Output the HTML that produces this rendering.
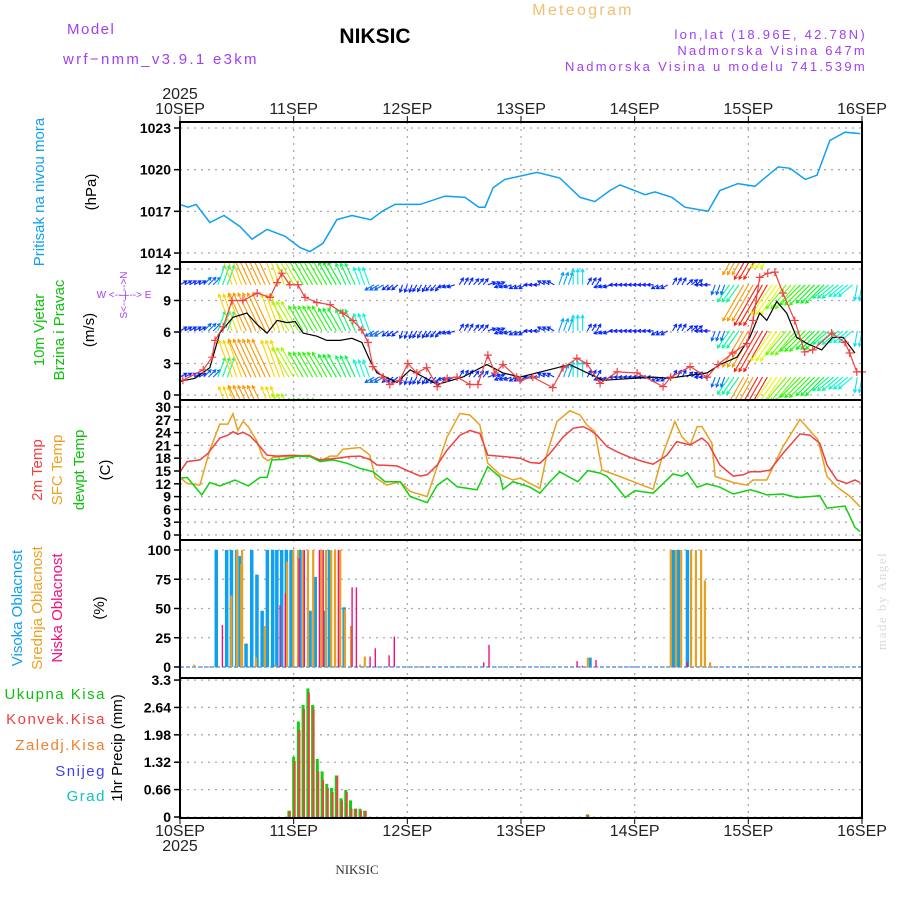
<!DOCTYPE html>
<html><head><meta charset="utf-8"><style>
html,body{margin:0;padding:0;background:#fff;}
svg{display:block;font-family:"Liberation Sans",sans-serif;}
.h{letter-spacing:1.5px;}
.h2{letter-spacing:2.3px;}
</style></head><body>
<svg id="chart" width="900" height="900" viewBox="0 0 900 900" xmlns="http://www.w3.org/2000/svg">
<defs>
<clipPath id="cW"><rect x="181" y="263" width="680" height="136"/></clipPath>
</defs>
<g>
<text x="67" y="34" fill="#a040f0" font-size="15" class="h">Model</text>
<text x="63" y="64" fill="#a040f0" font-size="15" class="h2">wrf−nmm_v3.9.1 e3km</text>
<text x="375" y="43" fill="#000" font-size="21" font-weight="bold" text-anchor="middle">NIKSIC</text>
<text x="583" y="15" fill="#f0c070" font-size="16" class="h2" text-anchor="middle">Meteogram</text>
<text x="867" y="39" fill="#a040f0" font-size="13" class="h2" text-anchor="end">lon,lat (18.96E, 42.78N)</text>
<text x="867" y="55" fill="#a040f0" font-size="13" class="h2" text-anchor="end">Nadmorska Visina 647m</text>
<text x="867" y="71" fill="#a040f0" font-size="13" class="h2" text-anchor="end">Nadmorska Visina u modelu 741.539m</text>
<text x="180" y="99" fill="#222" font-size="16" text-anchor="middle">2025</text>
<text x="180" y="851" fill="#222" font-size="16" text-anchor="middle">2025</text>
<text x="357" y="874" fill="#333" font-size="13" font-family="Liberation Serif,serif" text-anchor="middle">NIKSIC</text>
<text transform="translate(886,650) rotate(-90)" fill="#d8dcd8" font-size="13" font-family="Liberation Serif,serif" class="h">made by Angel</text>
</g>
<g font-size="15">
<text transform="translate(44,192) rotate(-90)" fill="#10a0f0" text-anchor="middle">Pritisak na nivou mora</text>
<text transform="translate(96,192) rotate(-90)" fill="#000" text-anchor="middle">(hPa)</text>
<text transform="translate(44,330) rotate(-90)" fill="#10c010" text-anchor="middle">10m Vjetar</text>
<text transform="translate(64,330) rotate(-90)" fill="#10c010" text-anchor="middle">Brzina i Pravac</text>
<text transform="translate(94,330) rotate(-90)" fill="#000" text-anchor="middle">(m/s)</text>
<text x="124" y="298" fill="#a040f0" font-size="10" text-anchor="middle">W  &lt;-- | --&gt;  E</text>
<text transform="translate(127,295) rotate(-90)" fill="#a040f0" font-size="10" text-anchor="middle">S&lt;-- | --&gt;N</text>
<text transform="translate(42,470) rotate(-90)" fill="#f04040" text-anchor="middle">2m Temp</text>
<text transform="translate(62,470) rotate(-90)" fill="#f0a020" text-anchor="middle">SFC Temp</text>
<text transform="translate(84,470) rotate(-90)" fill="#10c010" text-anchor="middle">dewpt Temp</text>
<text transform="translate(110,470) rotate(-90)" fill="#000" text-anchor="middle">(C)</text>
<text transform="translate(22,608) rotate(-90)" fill="#10a0f0" text-anchor="middle">Visoka Oblacnost</text>
<text transform="translate(42,608) rotate(-90)" fill="#f0a020" text-anchor="middle">Srednja Oblacnost</text>
<text transform="translate(62,608) rotate(-90)" fill="#f01080" text-anchor="middle">Niska Oblacnost</text>
<text transform="translate(104,608) rotate(-90)" fill="#000" text-anchor="middle">(%)</text>
<text transform="translate(122,748) rotate(-90)" fill="#000" text-anchor="middle">1hr Precip (mm)</text>
<text x="106" y="699" fill="#10c010" text-anchor="end" class="h">Ukupna Kisa</text>
<text x="106" y="724" fill="#f04040" text-anchor="end" class="h">Konvek.Kisa</text>
<text x="106" y="750" fill="#f08030" text-anchor="end" class="h">Zaledj.Kisa</text>
<text x="106" y="776" fill="#4040f0" text-anchor="end" class="h">Snijeg</text>
<text x="106" y="801" fill="#10c0c0" text-anchor="end" class="h">Grad</text>
</g>
<g id="grid"></g>
<g id="marks"></g>
<g id="axes"></g>
</svg>
<script>
// ---------- data ----------
const dayLabels = ["10SEP","11SEP","12SEP","13SEP","14SEP","15SEP","16SEP"];
const pTicks = [1023,1020,1017,1014];
const wTicks = [12,9,6,3,0];
const tTicks = [30,27,24,21,18,15,12,9,6,3,0];
const cTicks = [100,75,50,25,0];
const rTicks = [3.3,2.64,1.98,1.32,0.66,0];
const rTickLabels = ["3.3","2.64","1.98","1.32","0.66","0"];

const pHours = [0,1.7,3.4,6.3,9.3,12.7,15.2,18.4,22.2,25.3,27.4,30.2,33.1,36.3,40.3,42.7,45.4,50.7,56,60.2,63.1,64.4,66.1,68.6,75.4,80.2,84.5,87.6,90.8,92.9,98.2,100.3,103.9,106.6,111.5,114,117.8,121.4,123.1,126.3,128.8,132,134.5,137.2,140.4,143.6];
const pVals = [1017.5,1017.3,1017.5,1016.2,1016.7,1015.9,1015.0,1015.7,1015.2,1014.4,1014.1,1014.7,1016.4,1016.7,1016.4,1017.0,1017.5,1017.5,1018.1,1018.0,1017.3,1017.3,1018.7,1019.3,1019.8,1019.4,1018.0,1017.7,1018.5,1018.9,1018.2,1018.4,1018.0,1017.3,1017.0,1018.5,1019.0,1018.8,1019.3,1020.2,1020.1,1019.3,1019.6,1022.1,1022.7,1022.6];

const gustHours = [0.6,4.9,6.8,7.4,9.1,11,13.3,16.3,19,20.5,21.5,23.2,24.9,26.4,28.9,31.7,34.4,36.5,38.4,39.7,40.7,42.9,44.3,46.4,48.1,50,52.1,54.3,56.4,58.5,61.2,62.9,65,66.5,68.2,71.1,71.8,74.5,78.7,80.9,83.8,85.9,88.7,92.3,96.5,102,103.6,107.7,111.3,113.6,116.7,119.7,121,122.4,124.1,125.6,127.3,129.8,131.9,133.6,137.6,140.4,141.4,142.9,144];
const gustVals = [1.4,2.4,3.6,5.2,6.5,9.0,9.0,9.7,9.3,10.7,11.6,10.5,10.5,9.3,8.8,8.6,7.8,7.1,6.2,5.0,2.7,1.7,1.0,1.4,3.0,2.1,2.6,0.8,1.6,1.7,1.0,1.0,3.8,2.1,2.9,1.7,1.4,1.7,0.7,2.6,3.5,3.0,1.1,2.2,2.1,0.8,1.7,2.7,1.7,2.9,4.0,4.9,7.1,11.2,11.6,11.7,9.7,7.1,4.1,4.3,5.9,5.0,4.0,2.2,2.2];
const speedHours = [0,3.2,6.3,8.4,11.2,14.1,16.3,18.4,20.5,22.6,24.3,26,28.9,31,33.8,36.3,38.4,40.1,41.6,45.8,48.6,54.3,59.7,64.8,68.2,71.8,82.3,89.3,99.9,103.4,111.3,114,117.6,120.3,122.4,123.9,126,128.1,130.2,132.4,135.5,137.8,140,142.5];
const speedVals = [1.3,1.6,2.6,5.9,7.4,7.8,6.7,5.9,7.1,6.9,7.0,5.9,5.6,5.2,5.2,5.4,5.0,3.3,2.1,1.2,2.4,1.0,1.7,2.9,2.1,1.7,2.9,1.4,1.7,1.6,2.1,2.9,3.6,5.5,7.8,7.1,8.9,7.8,5.5,4.9,4.3,5.5,5.5,4.0];
// wind arrows, 3-hourly: speed (m/s) and direction the arrow points to (deg)
const arrowHours = [0,3,6,9,12,15,18,21,24,27,30,33,36,39,42,45,48,51,54,57,60,63,66,69,72,75,78,81,84,87,90,93,96,99,102,105,108,111,114,117,120,123,126,129,132,135,138,141,144];
const arrowSpeed = [1.5,1.5,2,4,7.5,8,8,7.5,6.5,5.5,5.5,5,4.5,3.5,2,1.5,1.5,1.5,1.5,1.5,1.5,1.5,1.5,1.5,1.5,1.2,1.5,2.5,3,1.5,1.5,1.2,1.2,1.2,1.5,1.5,1.5,1.2,2,4,8,9,7,6,5.5,5,4,3.5,3];
const arrowDir = [60,60,45,20,340,335,335,340,330,330,330,330,335,340,240,230,200,210,220,250,30,40,70,250,240,270,300,20,0,30,250,270,270,270,240,30,50,270,200,215,210,210,215,220,225,225,230,230,190];

const t2Hours = [0,1.5,4.2,5.9,8.4,10.1,11.2,12.2,13.3,14.8,16.3,18.4,20.5,23.9,27.4,29.6,33.2,35.9,38.0,40.1,41.6,45.8,48.6,50.7,52.2,54.3,56.4,59.1,61.2,63.3,65.0,68.2,71.8,73.9,76.0,78.1,80.9,83.0,85.1,86.6,88.0,90.2,92.3,95.0,97.8,99.9,102.8,104.9,107.7,110.2,111.5,114.0,116.8,118.9,120.4,122.5,124.6,127.3,130.9,133.0,135.1,136.6,138.7,140.8,142.5,143.6];
const t2Vals = [14.8,17.2,17.6,19.1,22.7,23.4,24.2,23.6,24.1,23.2,21.5,18.7,18.5,18.7,18.5,17.6,18.0,18.4,18.5,17.7,16.4,16.2,14.8,13.8,14.1,16.4,19.9,23.4,24.5,23.8,18.7,18.4,18.0,17.0,16.8,19.1,23.0,25.0,25.4,24.6,23.4,20.7,19.5,18.2,17.2,16.6,18.7,21.9,21.1,22.7,21.5,16.4,13.8,14.1,14.8,14.8,15.2,19.1,23.7,23.4,21.5,16.4,12.9,12.1,12.9,12.3];
const sfcHours = [0,1.5,4.2,6.3,8.4,10.1,11.2,12.2,13.3,14.4,16.3,17.5,18.6,19.6,22.6,27.4,29.6,31.7,33.2,34.4,38.0,40.1,41.2,43.7,46.5,48.6,52.2,56.4,59.1,61.2,63.3,65.0,67.6,70.3,71.8,76.0,77.5,79.6,82.3,84.5,85.9,87.6,89.1,92.9,95.7,99.9,102.0,104.5,106.0,107.7,109.2,110.2,112.3,113.0,116.8,119.7,121.0,123.9,127.3,130.9,134.7,136.6,138.7,141.5,143.6];
const sfcVals = [13.5,12.1,11.7,19.9,26.0,26.0,28.4,24.5,26.6,25.4,21.9,18.2,17.4,18.2,18.4,18.7,17.4,18.5,18.5,20.1,20.5,18.7,13.5,11.7,12.5,10.2,9.0,23.0,28.5,28.1,25.8,16.8,14.1,12.9,13.3,10.9,19.1,26.6,29.1,28.1,25.8,24.2,15.2,13.7,12.5,10.7,19.1,26.6,23.0,21.1,25.4,25.4,21.5,13.7,12.3,11.7,12.9,12.9,20.7,27.1,22.3,13.7,11.3,9.0,6.6];
const dewHours = [0,1.5,4.6,6.3,8.4,11.6,14.4,16.9,18.4,19.4,21.7,24.7,27.4,29.6,32.3,35.3,38.0,40.8,43.3,46.5,48.6,52.2,54.3,56.4,58.5,62.7,65.0,67.6,68.2,70.3,71.8,73.9,76.0,78.1,80.2,82.3,84.0,86.1,88.7,90.2,92.3,94.0,96.1,99.9,104.1,106.0,107.1,109.2,111.3,114.0,116.8,120.4,121.8,123.9,127.3,130.3,133.0,135.1,136.6,140.4,142.5,143.6];
const dewVals = [13.3,13.5,9.4,12.3,11.5,12.9,11.5,13.5,13.5,17.6,17.7,18.5,18.4,17.2,17.6,16.8,15.6,14.8,12.5,12.5,9.0,7.6,11.7,13.3,11.3,10.6,16.0,13.5,10.7,12.5,12.0,11.2,9.8,12.5,14.8,13.5,12.5,15.1,14.5,13.7,11.2,8.8,10.4,9.8,14.3,13.8,14.6,11.2,12.0,11.2,9.6,10.6,10.2,9.4,9.6,8.8,9.0,9.2,6.3,6.8,1.8,0.8];

const highHours = [7.6,9.8,10.8,11.9,12.7,13.9,15.1,16.2,17.3,18.4,19.5,20.4,21.4,22.4,23.4,25.3,27.4,28.5,30.4,31.5,34.6,86.5,104.1,105.2,107.1];
const highVals = [100,100,100,100,95,20,100,79,48,100,100,100,100,100,100,100,48,77,48,100,51,8,100,100,100];
const midHours = [3,10.8,12.0,12.9,13.1,16.0,17.9,20.1,22.6,23.9,24.9,26.0,27.0,28.1,29.8,30.8,31.9,32.7,33.8,34.8,36.1,38.0,39.0,86.1,103.6,104.7,105.8,107.9,108.9,110.0,110.8,111.9];
const midVals = [2,61,100,88,100,8,35,2,90,100,100,100,100,100,100,100,100,100,100,49,35,2,9,8,100,100,100,100,100,100,74,4];
const lowHours = [8.9,21.1,22.2,25.1,26.2,29.4,30.2,33.4,36.3,37.2,40.1,41.2,44.1,45.2,64.1,65.2,83.8,84.9,87.8,107.1];
const lowVals = [36,53,63,93,100,100,100,100,68,68,9,16,10,26,4,19,5,1,6,4];

const precipHours = [23,24,25,26,27,28,29,30,31,32,33,34,35,36,37,38,39,86];
const precipTotal = [0.15,1.45,2.3,2.7,3.1,2.7,1.4,1.1,0.8,0.7,1.0,0.45,0.65,0.4,0.2,0.2,0.15,0.06];
const precipConv = [0.15,1.35,2.1,2.6,3.0,2.6,1.1,0.9,0.7,0.6,1.0,0.4,0.6,0.2,0.2,0.15,0.15,0.06];

// ---------- scales ----------
const X0=180, X1=862, H=144;
const xS = h => X0 + h*(X1-X0)/H;
const yP = v => 128 + (1023-v)*13.89;
const yW = v => 395 - v*10.5;
const yT = v => 535 - v*4.267;
const yC = v => 667 - v*1.17;
const yR = v => 817 - v*41.5;

const NS="http://www.w3.org/2000/svg";
function mk(tag, attrs, parent){const e=document.createElementNS(NS,tag);for(const k in attrs)e.setAttribute(k,attrs[k]);parent.appendChild(e);return e;}
const grid=document.getElementById('grid'), marks=document.getElementById('marks'), axes=document.getElementById('axes');

const panels=[{top:122,bot:262,ticks:pTicks,lab:pTicks,f:yP,n:'pressure'},
 {top:262,bot:400,ticks:wTicks,lab:wTicks,f:yW,n:'wind'},
 {top:400,bot:540,ticks:tTicks,lab:tTicks,f:yT,n:'temperature'},
 {top:540,bot:678,ticks:cTicks,lab:cTicks,f:yC,n:'cloud'},
 {top:678,bot:818,ticks:rTicks,lab:rTickLabels,f:yR,n:'precip'}];

panels.forEach(p=>{
  p.ticks.forEach((t,i)=>{
    const y=p.f(t);
    const gl=mk('line',{x1:X0,x2:X1,y1:y,y2:y,stroke:'#aaa','stroke-width':1.3,'stroke-dasharray':'2,5'},grid);
    
    
    const tk=mk('line',{x1:X0-6,x2:X0,y1:y,y2:y,stroke:'#000','stroke-width':1.5},axes);
    
    
    const tl=mk('text',{x:X0-9,y:y+5,'text-anchor':'end','font-size':14,'font-weight':'bold',fill:'#000'},axes);
    tl.textContent=p.lab[i];
    
    
  });
  for(let d=1;d<6;d++){
    const vl=mk('line',{x1:xS(d*24),x2:xS(d*24),y1:p.top,y2:p.bot,stroke:'#aaa','stroke-width':1.3,'stroke-dasharray':'2,5'},grid);
    
    
  }
  const fr=mk('rect',{x:X0,y:p.top,width:X1-X0,height:p.bot-p.top,fill:'none',stroke:'#000','stroke-width':2},axes);
  
  
});
dayLabels.forEach((d,i)=>{
  const x=xS(i*24);
  const a=mk('text',{x:x,y:114,'text-anchor':'middle','font-size':16,fill:'#222'},axes); a.textContent=d;
  
  
  const b=mk('text',{x:x,y:836,'text-anchor':'middle','font-size':16,fill:'#222'},axes); b.textContent=d;
  
  
  mk('line',{x1:x,x2:x,y1:116,y2:122,stroke:'#000'},axes);
  mk('line',{x1:x,x2:x,y1:818,y2:824,stroke:'#000'},axes);
});

function poly(hs, vs, f, color, name, w){
  const pl=mk('polyline',{points:hs.map((h,i)=>xS(h).toFixed(1)+','+f(vs[i]).toFixed(1)).join(' '),fill:'none',stroke:color,'stroke-width':w||1.4},marks);
  
  
  return pl;
}
poly(pHours,pVals,yP,'#10a0f0','pressure-line',1.5);

// wind arrows (repeated rows), clipped
const wg=mk('g',{'clip-path':'url(#cW)'},marks);


const rowBase=[10.5,6.1,1.7,-2.7,14.9];
function spdColor(s){const hue=Math.max(0,Math.min(235,240-(s-1.2)*30));return 'hsl('+hue+',95%,50%)';}
rowBase.forEach(rb=>{
  const by=yW(rb);
  for(let h=0;h<=144;h+=1){
    const i=Math.min(arrowHours.length-1,Math.round(h/3));
    const s=arrowSpeed[i], a=arrowDir[i]*Math.PI/180, L=s*5.2;
    const x0=xS(h), x1=x0+L*Math.sin(a), y1=by-L*Math.cos(a);
    const c=spdColor(s);
    const ar=mk('path',{d:'M'+x0.toFixed(1)+' '+by.toFixed(1)+'L'+x1.toFixed(1)+' '+y1.toFixed(1)+
      'M'+(x1-3.5*Math.sin(a-0.5)).toFixed(1)+' '+(y1+3.5*Math.cos(a-0.5)).toFixed(1)+'L'+x1.toFixed(1)+' '+y1.toFixed(1)+
      'L'+(x1-3.5*Math.sin(a+0.5)).toFixed(1)+' '+(y1+3.5*Math.cos(a+0.5)).toFixed(1),stroke:c,'stroke-width':1.1,fill:'none'},wg);
    
    
  }
});
poly(speedHours,speedVals,yW,'#000','wind-speed-line',1.2);
poly(gustHours,gustVals,yW,'#f04040','wind-gust-line',1.2);
gustHours.forEach((h,i)=>{
  const x=xS(h), y=yW(gustVals[i]);
  const m=mk('path',{d:'M'+(x-4)+' '+y+'h8M'+x+' '+(y-4)+'v8',stroke:'#f04040','stroke-width':1.2},marks);
  
  
});

poly(sfcHours,sfcVals,yT,'#e8a020','sfc-temp-line',1.5);
poly(t2Hours,t2Vals,yT,'#f04040','t2m-line',1.5);
poly(dewHours,dewVals,yT,'#10d010','dewpoint-line',1.5);

// clouds
mk('line',{x1:X0,x2:X1,y1:yC(0),y2:yC(0),stroke:'#10a0f0','stroke-width':1.3,'stroke-dasharray':'3,3'},marks);
mk('line',{x1:X0+3,x2:X1,y1:yC(0),y2:yC(0),stroke:'#f01080','stroke-width':1,'stroke-dasharray':'1,5'},marks);
function bars(hs,vs,f,color,w,off,name){
  hs.forEach((h,i)=>{
    const y=f(vs[i]);
    const r=mk('rect',{x:(xS(h)+off).toFixed(1),y:y.toFixed(1),width:w,height:(f(0)-y).toFixed(1),fill:color},marks);
    
    
  });
}
bars(highHours,highVals,yC,'#10a0f0',3.5,-1.5,'high-cloud-bar');
bars(midHours,midVals,yC,'#e8a020',2.2,-1,'mid-cloud-bar');
bars(lowHours,lowVals,yC,'#f01080',1.4,-0.5,'low-cloud-bar');
bars(precipHours,precipTotal,yR,'#10d010',3,-1.5,'precip-total-bar');
bars(precipHours,precipConv,yR,'#f04040',2,0,'precip-convective-bar');
</script>
</body></html>
